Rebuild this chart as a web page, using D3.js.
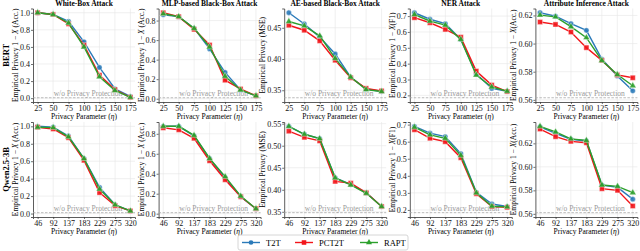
<!DOCTYPE html>
<html>
<head>
<meta charset="utf-8">
<script src="https://cdn.jsdelivr.net/npm/d3@7"></script>
<style>
  body { margin: 0; background: #fff; }
  svg text { font-family: "Liberation Serif", "DejaVu Serif", serif; }
</style>
</head>
<body>
<svg id="chart" width="640" height="251"></svg>
<script>
// privacy parameter ticks for each row
const bertEta = [25, 50, 75, 100, 125, 150, 175];
const qwenEta = [46, 92, 137, 183, 229, 275, 320];

const titles = ["White-Box Attack", "MLP-based Black-Box Attack", "AE-based Black-Box Attack", "NER Attack", "Attribute Inference Attack"];
const rowNames = ["BERT", "Qwen2.5-3B"];
const seriesNames = ["T2T", "PCT2T", "RAPT"];

// BERT row
const bertWhiteT2T   = [1.0, 0.98, 0.90, 0.66, 0.36, 0.11, 0.02];
const bertWhitePCT2T = [1.0, 0.98, 0.87, 0.62, 0.27, 0.10, 0.01];
const bertWhiteRAPT  = [1.0, 0.98, 0.88, 0.60, 0.25, 0.09, 0.01];
const bertWhiteBase  = 0.005;

const bertMlpT2T   = [0.86, 0.84, 0.72, 0.51, 0.27, 0.09, 0.03];
const bertMlpPCT2T = [0.88, 0.84, 0.71, 0.55, 0.19, 0.10, 0.03];
const bertMlpRAPT  = [0.87, 0.84, 0.72, 0.53, 0.23, 0.09, 0.03];
const bertMlpBase  = 0.01;

const bertAeT2T   = [0.474, 0.456, 0.435, 0.408, 0.371, 0.352, 0.348];
const bertAePCT2T = [0.454, 0.446, 0.429, 0.398, 0.370, 0.353, 0.349];
const bertAeRAPT  = [0.460, 0.453, 0.437, 0.401, 0.371, 0.351, 0.348];
const bertAeBase  = 0.338;

const bertNerT2T   = [0.721, 0.680, 0.652, 0.553, 0.336, 0.244, 0.226];
const bertNerPCT2T = [0.690, 0.658, 0.616, 0.567, 0.353, 0.265, 0.224];
const bertNerRAPT  = [0.710, 0.668, 0.643, 0.553, 0.328, 0.253, 0.226];
const bertNerBase  = 0.185;

const bertAttrT2T   = [0.6219, 0.6195, 0.6141, 0.6094, 0.5890, 0.5770, 0.5664];
const bertAttrPCT2T = [0.6153, 0.6136, 0.6082, 0.5971, 0.5880, 0.5777, 0.5757];
const bertAttrRAPT  = [0.6202, 0.6190, 0.6120, 0.6042, 0.5880, 0.5780, 0.5700];
const bertAttrBase  = 0.5615;

// Qwen2.5-3B row
const qwenWhiteT2T   = [1.0, 0.99, 0.89, 0.63, 0.30, 0.10, 0.03];
const qwenWhitePCT2T = [0.99, 0.97, 0.87, 0.61, 0.24, 0.09, 0.03];
const qwenWhiteRAPT  = [0.99, 0.985, 0.88, 0.63, 0.28, 0.10, 0.03];
const qwenWhiteBase  = 0.01;

const qwenMlpT2T   = [0.875, 0.875, 0.78, 0.55, 0.36, 0.17, 0.05];
const qwenMlpPCT2T = [0.86, 0.84, 0.755, 0.53, 0.34, 0.17, 0.05];
const qwenMlpRAPT  = [0.875, 0.875, 0.785, 0.553, 0.371, 0.176, 0.05];
const qwenMlpBase  = 0.01;

const qwenAeT2T   = [0.544, 0.526, 0.516, 0.427, 0.412, 0.393, 0.362];
const qwenAePCT2T = [0.533, 0.519, 0.511, 0.419, 0.415, 0.393, 0.362];
const qwenAeRAPT  = [0.544, 0.526, 0.516, 0.427, 0.411, 0.392, 0.362];
const qwenAeBase  = 0.348;

const qwenNerT2T   = [0.690, 0.650, 0.630, 0.530, 0.303, 0.235, 0.220];
const qwenNerPCT2T = [0.670, 0.620, 0.600, 0.506, 0.295, 0.220, 0.215];
const qwenNerRAPT  = [0.685, 0.640, 0.620, 0.520, 0.300, 0.222, 0.218];
const qwenNerBase  = 0.184;

const qwenAttrT2T   = [0.6340, 0.6285, 0.6235, 0.6220, 0.5845, 0.5825, 0.5725];
const qwenAttrPCT2T = [0.6322, 0.6257, 0.6217, 0.6205, 0.5814, 0.5800, 0.5667];
const qwenAttrRAPT  = [0.6345, 0.6297, 0.6238, 0.6225, 0.5845, 0.5834, 0.5780];
const qwenAttrBase  = 0.561;

// y ticks per column
const ticksWhite = [0, 0.2, 0.4, 0.6, 0.8, 1.0];
const ticksMlp   = [0, 0.2, 0.4, 0.6, 0.8];
const ticksNer   = [0.2, 0.3, 0.4, 0.5, 0.6, 0.7];
const ticksBertAe = [0.35, 0.40, 0.45];
const ticksQwenAe = [0.35, 0.40, 0.45, 0.50, 0.55];
const ticksAttr  = [0.56, 0.58, 0.60, 0.62];

const colors = ["#2a7ab9", "#f2151a", "#2ca02c"];
const symbols = [d3.symbolCircle, d3.symbolSquare, d3.symbolTriangle];
const symSizes = [22, 26, 20];

const panels = [
  {row: 0, col: 0, eta: bertEta, ys: [bertWhiteT2T, bertWhitePCT2T, bertWhiteRAPT], base: bertWhiteBase, ticks: ticksWhite, fmt: ".1f", ylab: "acc1"},
  {row: 0, col: 1, eta: bertEta, ys: [bertMlpT2T, bertMlpPCT2T, bertMlpRAPT], base: bertMlpBase, ticks: ticksMlp, fmt: ".1f", ylab: "acc1"},
  {row: 0, col: 2, eta: bertEta, ys: [bertAeT2T, bertAePCT2T, bertAeRAPT], base: bertAeBase, ticks: ticksBertAe, fmt: ".2f", ylab: "mse"},
  {row: 0, col: 3, eta: bertEta, ys: [bertNerT2T, bertNerPCT2T, bertNerRAPT], base: bertNerBase, ticks: ticksNer, fmt: ".1f", ylab: "f1"},
  {row: 0, col: 4, eta: bertEta, ys: [bertAttrT2T, bertAttrPCT2T, bertAttrRAPT], base: bertAttrBase, ticks: ticksAttr, fmt: ".2f", ylab: "acc2"},
  {row: 1, col: 0, eta: qwenEta, ys: [qwenWhiteT2T, qwenWhitePCT2T, qwenWhiteRAPT], base: qwenWhiteBase, ticks: ticksWhite, fmt: ".1f", ylab: "acc1"},
  {row: 1, col: 1, eta: qwenEta, ys: [qwenMlpT2T, qwenMlpPCT2T, qwenMlpRAPT], base: qwenMlpBase, ticks: ticksMlp, fmt: ".1f", ylab: "acc1"},
  {row: 1, col: 2, eta: qwenEta, ys: [qwenAeT2T, qwenAePCT2T, qwenAeRAPT], base: qwenAeBase, ticks: ticksQwenAe, fmt: ".2f", ylab: "mse"},
  {row: 1, col: 3, eta: qwenEta, ys: [qwenNerT2T, qwenNerPCT2T, qwenNerRAPT], base: qwenNerBase, ticks: ticksNer, fmt: ".1f", ylab: "f1"},
  {row: 1, col: 4, eta: qwenEta, ys: [qwenAttrT2T, qwenAttrPCT2T, qwenAttrRAPT], base: qwenAttrBase, ticks: ticksAttr, fmt: ".2f", ylab: "acc2"}
];

const svg = d3.select("#chart");

const plotW = 102;
const colLeft = c => 33 + c * 125.6;
const rowTop = [8.5, 122];
const rowBottom = [102, 217];

// pad like matplotlib autoscale (5%)
function padded(lo, hi) {
  const m = (hi - lo) * 0.05;
  return [lo - m, hi + m];
}

panels.forEach(p => {
  const x0 = colLeft(p.col), y0 = rowTop[p.row], y1 = rowBottom[p.row];
  const g = svg.append("g");

  const xs = d3.scaleLinear().domain(padded(d3.min(p.eta), d3.max(p.eta))).range([x0, x0 + plotW]);
  const all = p.ys.flat().concat([p.base]);
  const ys = d3.scaleLinear().domain(padded(d3.min(all), d3.max(all))).range([y1, y0]);

  // grid
  g.selectAll(".gx").data(p.eta).join("line")
    .attr("x1", d => xs(d)).attr("x2", d => xs(d))
    .attr("y1", y0).attr("y2", y1)
    .attr("stroke", "#e6e6e6").attr("stroke-width", 0.6);
  g.selectAll(".gy").data(p.ticks).join("line")
    .attr("x1", x0).attr("x2", x0 + plotW)
    .attr("y1", d => ys(d)).attr("y2", d => ys(d))
    .attr("stroke", "#e6e6e6").attr("stroke-width", 0.6);

  // axes
  const xAxis = g.append("g").attr("transform", `translate(0,${y1})`)
    .call(d3.axisBottom(xs).tickValues(p.eta).tickSize(2).tickPadding(1.5).tickFormat(d3.format("d")));
  const yAxis = g.append("g").attr("transform", `translate(${x0},0)`)
    .call(d3.axisLeft(ys).tickValues(p.ticks).tickSize(2).tickPadding(1).tickFormat(d3.format(p.fmt)));
  [xAxis, yAxis].forEach(a => {
    a.select(".domain").attr("stroke", "#333").attr("stroke-width", 0.8);
    a.selectAll(".tick line").attr("stroke", "#333").attr("stroke-width", 0.7);
    a.selectAll("text").attr("font-size", 8).attr("fill", "#111")
      .style("font-family", '"Liberation Serif", serif');
  });

  // no-protection baseline
  g.append("line")
    .attr("x1", x0).attr("x2", x0 + plotW)
    .attr("y1", ys(p.base)).attr("y2", ys(p.base))
    .attr("stroke", "#aaa").attr("stroke-width", 0.8).attr("stroke-dasharray", "2.5,1.5");
  g.append("text")
    .attr("x", x0 + plotW / 2 + 4).attr("y", ys(p.base) - 2)
    .attr("text-anchor", "middle").attr("font-size", 7.5).attr("fill", "#999")
    .text("w/o Privacy Protection");

  // series
  const line = d3.line().x((d, i) => xs(p.eta[i])).y(d => ys(d));
  p.ys.forEach((vals, k) => {
    g.append("path").datum(vals)
      .attr("d", line).attr("fill", "none")
      .attr("stroke", colors[k]).attr("stroke-width", 1.4);
    g.selectAll(".m" + k).data(vals).join("path")
      .attr("transform", (d, i) => `translate(${xs(p.eta[i])},${ys(d)})`)
      .attr("d", d3.symbol().type(symbols[k]).size(symSizes[k]))
      .attr("fill", colors[k]).attr("stroke", "#fff").attr("stroke-width", 0.4)
      .attr("fill-opacity", 0.9);
  });

  // title
  if (p.row === 0) {
    g.append("text").attr("x", x0 + plotW / 2).attr("y", 5.5)
      .attr("text-anchor", "middle").attr("font-size", 7.5).attr("font-weight", "bold")
      .text(titles[p.col]);
  }

  // x label
  g.append("text").attr("x", x0 + plotW / 2).attr("y", y1 + 17)
    .attr("text-anchor", "middle").attr("font-size", 7.5)
    .text("Privacy Parameter (")
    .call(t => t.append("tspan").attr("font-style", "italic").text("η"))
    .call(t => t.append("tspan").text(")"));

  // y label, placed left of the tick labels like matplotlib does
  // (getBBox is in the axis group's own coordinates, so add x0)
  const tickBox = yAxis.node().getBBox();
  const yl = g.append("text")
    .attr("transform", `translate(${x0 + tickBox.x - 2},${(y0 + y1) / 2}) rotate(-90)`)
    .attr("text-anchor", "middle").attr("font-size", 7.5);
  if (p.ylab === "mse") {
    yl.text("Empirical Privacy (MSE)");
  } else {
    yl.text("Empirical Privacy 1 − ");
    yl.append("tspan").attr("font-style", "italic").text("X");
    yl.append("tspan").text(p.ylab === "acc1" ? " (Acc.)" : p.ylab === "f1" ? "(F1)" : "(Acc.)");
  }
});

// row labels
rowNames.forEach((name, r) => {
  svg.append("text")
    .attr("transform", `translate(8.5,${(rowTop[r] + rowBottom[r]) / 2}) rotate(-90)`)
    .attr("text-anchor", "middle").attr("font-size", 8.5).attr("font-weight", "bold")
    .text(name);
});

// legend
const leg = svg.append("g").attr("transform", "translate(238,235)");
leg.append("rect").attr("width", 170).attr("height", 15).attr("rx", 2)
  .attr("fill", "#fff").attr("stroke", "#ccc").attr("stroke-width", 0.8);
const legX = [4, 57, 122];
seriesNames.forEach((name, k) => {
  const lx = legX[k];
  leg.append("line").attr("x1", lx).attr("x2", lx + 18).attr("y1", 7.5).attr("y2", 7.5)
    .attr("stroke", colors[k]).attr("stroke-width", 1.4);
  leg.append("path").attr("transform", `translate(${lx + 9},7.5)`)
    .attr("d", d3.symbol().type(symbols[k]).size(symSizes[k] * 0.8))
    .attr("fill", colors[k]);
  leg.append("text").attr("x", lx + 24).attr("y", 10.5)
    .attr("font-size", 8.5).text(name);
});
</script>
</body>
</html>
